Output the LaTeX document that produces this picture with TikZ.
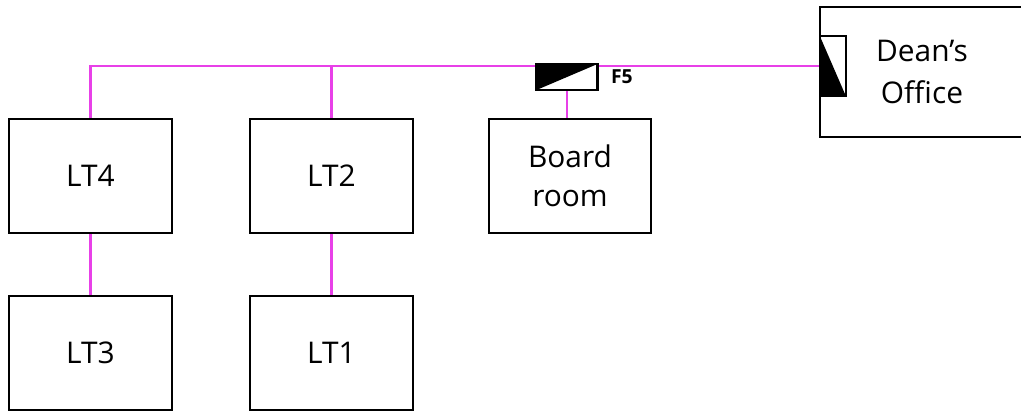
\documentclass[tikz,border=0pt]{standalone}
\usepackage{fontspec}
\setmainfont{Open Sans}
\usepackage{tikz}
\usetikzlibrary{positioning}
\definecolor{wirepink}{RGB}{232,64,232}

\begin{document}
\begin{tikzpicture}[
  room/.style={draw, line width=1.5pt, minimum width=3.26cm, minimum height=2.28cm,
    align=center, font=\fontsize{17}{22}\selectfont},
  wire/.style={wirepink, line width=1.5pt},
  fitting/.style={draw, line width=1.3pt, fill=white, inner sep=0pt}]
  \useasboundingbox (0,0) rectangle (20.42,-8.26);
  \node[room] (lt4) at (1.81,-3.52) {LT4};
  \node[room] (lt2) at (6.63,-3.52) {LT2};
  \node[room] (lt3) at (1.81,-7.06) {LT3};
  \node[room] (lt1) at (6.63,-7.06) {LT1};
  \node[room, minimum width=3.24cm] (board) at (11.40,-3.52) {Board\\room};
  \node[room, minimum width=4.08cm, minimum height=2.6cm, font=\fontsize{17}{24}\selectfont] (dean) at (18.44,-1.44) {Dean’s\\Office};
  \node[fitting, minimum width=0.52cm, minimum height=1.2cm, anchor=west,
    path picture={\fill[black] (path picture bounding box.north west) -- (path picture bounding box.south east)
      -- (path picture bounding box.south west) -- cycle;}] (door) at (dean.west |- 0,-1.32) {};
  \draw[wire] (lt4.north) |- (door.west);
  \draw[wire] (lt2.north) -- (lt2.north |- door.west);
  \draw[wire] (lt4.south) -- (lt3.north);
  \draw[wire] (lt2.south) -- (lt1.north);
  \node[fitting, minimum width=1.22cm, minimum height=0.52cm,
    path picture={\fill[black] (path picture bounding box.south west) -- (path picture bounding box.north west)
      -- (path picture bounding box.north east) -- cycle;}] (f5) at (11.34,-1.54) {};
  \node[right=0.24cm of f5.east, font=\fontsize{11}{12}\selectfont\bfseries, inner sep=0pt] (f5lbl) {F5};
  \draw[wire] (f5.south) -- (f5.south |- board.north);
\end{tikzpicture}
\end{document}
